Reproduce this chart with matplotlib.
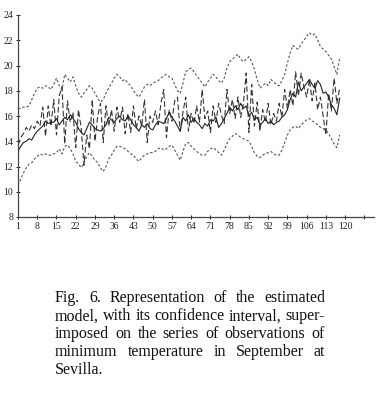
import matplotlib
matplotlib.use("Agg")
import matplotlib.pyplot as plt
import numpy as np

plt.rcParams['font.family'] = ['Liberation Serif', 'DejaVu Serif']

years = list(range(1, 119))

upper = [16.6, 16.6, 16.7, 16.7, 16.8, 17.3, 17.8, 18.2, 18.3, 18.2,
         18.4, 18.3, 18.1, 18.5, 19.0, 18.4, 18.1, 19.3, 19.0, 18.7,
         19.1, 18.4, 17.8, 17.5, 17.8, 18.1, 18.4, 18.2, 17.8, 17.4,
         17.1, 17.3, 17.8, 18.2, 18.6, 19.0, 19.3, 19.1, 18.8, 18.9,
         18.6, 18.4, 18.0, 17.7, 17.5, 17.9, 18.3, 18.5, 18.4, 18.6,
         18.7, 18.8, 19.0, 19.2, 19.3, 19.1, 19.0, 18.5, 18.0, 17.8,
         18.6, 19.5, 19.7, 19.8, 19.5, 19.2, 18.9, 18.6, 18.3, 18.7,
         19.0, 19.3, 19.1, 18.8, 18.6, 19.0, 19.8, 20.3, 20.5, 20.7,
         20.9, 20.5, 20.3, 20.5, 20.7, 20.3, 19.7, 18.9, 18.2, 18.4,
         18.6, 18.4, 18.9, 18.7, 18.5, 18.4, 18.8, 19.3, 20.2, 21.0,
         21.6, 21.4, 21.3, 21.7, 22.0, 22.3, 22.6, 22.4, 22.5, 22.0,
         21.5, 21.3, 21.1, 20.8, 20.5, 19.9, 19.3, 20.6]

lower = [10.5, 11.0, 11.5, 11.9, 12.2, 12.3, 12.6, 12.8, 13.0, 12.9,
         13.0, 12.9, 12.9, 13.0, 13.1, 13.4, 13.0, 13.6, 13.7, 13.4,
         13.0, 12.4, 12.2, 11.9, 12.3, 12.8, 13.1, 12.8, 12.5, 12.3,
         11.9, 11.6, 12.0, 12.6, 12.9, 13.3, 13.6, 13.6, 13.5, 13.4,
         13.2, 13.0, 12.9, 12.6, 12.4, 12.7, 12.9, 13.0, 13.1, 13.1,
         13.2, 13.4, 13.5, 13.3, 13.4, 13.6, 13.7, 13.3, 12.9, 12.5,
         13.2, 13.8, 13.9, 13.6, 13.4, 13.2, 13.0, 12.9, 12.9, 13.2,
         13.4, 13.5, 13.3, 13.1, 12.9, 13.3, 13.8, 14.2, 14.4, 14.6,
         14.5, 14.3, 14.2, 14.1, 14.0, 13.6, 13.1, 12.8, 12.7, 12.9,
         13.0, 13.1, 13.2, 13.0, 12.9, 12.9, 13.3, 13.9, 14.5, 14.9,
         15.1, 15.2, 15.0, 15.3, 15.5, 15.7, 15.8, 15.6, 15.5, 15.3,
         15.1, 15.0, 14.9, 14.6, 14.2, 13.8, 13.5, 14.5]

model = [13.2, 13.6, 13.9, 14.0, 14.2, 14.1, 14.5, 14.8, 15.0, 15.2,
         15.6, 15.4, 15.5, 15.5, 15.8, 15.3, 15.6, 15.9, 15.7, 16.1,
         15.8, 15.5, 15.0, 14.7, 14.5, 15.0, 15.5, 15.3, 15.0, 14.9,
         14.8, 15.0, 15.3, 15.9, 15.7, 15.5, 15.8, 16.0, 15.7, 15.6,
         16.0, 15.7, 15.3, 15.1, 14.8, 15.3, 15.1, 15.4, 15.0, 14.9,
         15.3, 15.6, 15.5, 15.4, 15.8, 16.3, 15.9, 15.6, 15.2, 14.8,
         15.9, 15.6, 16.1, 15.5, 15.8, 15.5, 15.3, 15.0, 15.4, 15.2,
         15.7, 15.6, 15.9, 15.1, 15.4, 15.8, 16.2, 16.7, 16.4, 16.8,
         16.5, 17.0, 16.6, 16.8, 16.0, 16.3, 15.7, 15.9, 15.3, 15.5,
         15.8, 15.4, 15.6, 15.3, 15.5, 15.6, 15.9, 16.1, 16.5, 17.3,
         17.8, 17.5, 18.7, 18.0, 18.3, 18.6, 18.9, 18.5, 18.2, 18.8,
         18.5, 17.8, 17.9, 17.5, 16.9, 16.6, 16.1, 17.4]

observed = [13.7, 14.3, 14.6, 15.1, 14.8, 15.3, 15.0, 15.6, 15.2, 16.7,
            14.4, 16.8, 15.2, 17.3, 14.5, 17.6, 18.3, 13.8, 17.2, 15.5,
            16.3, 13.5, 16.5, 15.0, 12.1, 14.5, 13.4, 17.3, 14.0, 16.0,
            17.0, 13.9, 16.8, 15.2, 16.5, 14.8, 16.7, 15.5, 16.7, 14.6,
            16.2, 14.7, 16.8, 15.0, 16.0, 15.2, 17.3, 13.9, 16.0, 15.5,
            16.4, 15.3, 17.0, 18.1, 14.3, 16.5, 15.6, 17.2, 17.5, 14.8,
            16.3, 17.5, 14.8, 16.2, 15.4, 16.8, 15.5, 18.1, 15.8, 16.4,
            14.7, 16.8, 15.5, 17.0, 16.1, 15.4, 18.1, 16.2, 17.3, 15.8,
            17.5, 15.9, 17.0, 19.4, 14.7, 18.5, 15.2, 17.1, 14.8, 16.5,
            15.5, 17.0, 15.3, 16.2, 15.6, 17.0, 15.9, 18.1, 16.6, 18.1,
            16.8, 19.5, 17.6, 19.4, 18.3, 17.5, 18.9, 17.2, 18.6, 16.5,
            17.5, 16.0, 14.5, 17.8, 16.4, 19.0, 17.0, 18.2]

xticks = list(range(1, 128, 7))
xtick_labels = [str(t) if t <= 120 else '' for t in xticks]
yticks = list(range(8, 25, 2))

caption_lines = [
    "Fig. 6. Representation of the estimated",
    "model, with its confidence interval, super-",
    "imposed on the series of observations of",
    "minimum temperature in September at",
    "Sevilla.",
]

fig = plt.figure(figsize=(3.84, 4.0), dpi=100)
ax = fig.add_axes([18/384, 1-217/400, (374-18)/384, (217-15)/400])

ax.plot(years, upper, color='#555555', lw=0.8, dashes=(2.2, 1.8))
ax.plot(years, lower, color='#555555', lw=0.8, dashes=(2.2, 1.8))
ax.plot(years, observed, color='#333333', lw=0.8, dashes=(5, 2.5))
ax.plot(years, model, color='#222222', lw=0.8)

ax.set_xlim(1, 130.5)
ax.set_ylim(8, 24)
ax.set_xticks(xticks)
ax.set_xticklabels(xtick_labels)
ax.set_yticks(yticks)
for s in ['top', 'right']:
    ax.spines[s].set_visible(False)
for s in ['left', 'bottom']:
    ax.spines[s].set_linewidth(0.9)
    ax.spines[s].set_color('#444444')
ax.tick_params(axis='both', direction='inout', length=3, width=0.7,
               labelsize=7, colors='#222222', pad=2)

# justified caption
fs = 11.5
left_px, right_px = 55, 325
ys = [298, 316.5, 334, 352, 369.5]
fig.canvas.draw()
r = fig.canvas.get_renderer()
for i, line in enumerate(caption_lines):
    yf = 1 - ys[i]/400
    words = line.split(' ')
    if i == len(caption_lines) - 1:
        fig.text(left_px/384, yf, line, fontsize=fs, color='#111111',
                 ha='left', va='center')
        continue
    texts = [fig.text(0, yf, w, fontsize=fs, color='#111111', ha='left', va='center')
             for w in words]
    widths = [t.get_window_extent(renderer=r).width for t in texts]
    gap = (right_px - left_px - sum(widths)) / (len(words) - 1)
    x = left_px
    for t, w in zip(texts, widths):
        t.set_x(x/384)
        x += w + gap

fig.savefig('out.png', dpi=100)
